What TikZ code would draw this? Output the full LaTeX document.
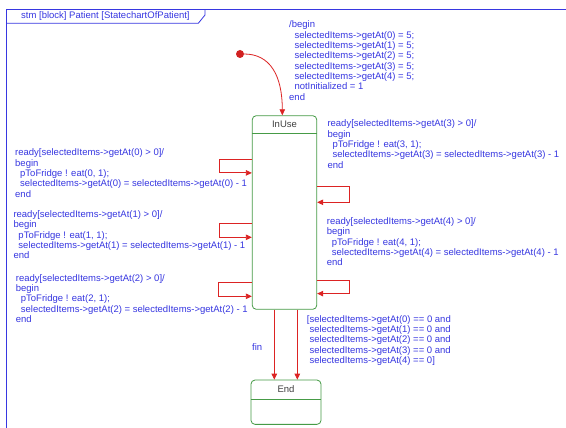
\documentclass[tikz,border=0pt]{standalone}
\usepackage{fontspec}
\setmainfont{Liberation Sans}
\usetikzlibrary{arrows.meta}
\definecolor{stmblue}{RGB}{55,55,225}
\definecolor{stategreen}{RGB}{70,155,70}
\definecolor{trred}{RGB}{220,35,35}
\begin{document}
\begin{tikzpicture}[x=1pt, y=-1pt,
    lbl/.style={text=stmblue, font=\fontsize{9.5}{10.34}\selectfont, align=left, anchor=base west, inner sep=0pt},
    nm/.style={text=black!75, font=\fontsize{9.5}{11}\selectfont, inner sep=0pt},
    state/.style={draw=stategreen, rounded corners=4pt, line width=0.8pt, fill=white},
    sep/.style={draw=stategreen, line width=0.8pt},
    tr/.style={draw=trred, line width=0.8pt, -{Triangle[length=6pt,width=5.5pt]}},
    init/.style={circle, fill=trred!95!black, inner sep=0pt, minimum size=8pt}
]
    \useasboundingbox (0,0) rectangle (566,428);
    \fill[white] (0,0) rectangle (566,428);
    \draw[stmblue, line width=0.8pt] (6,428) -- (6,9.5) -- (566,9.5);
    \draw[stmblue, line width=0.8pt] (6,23.3) -- (198.3,23.3) -- (205,15) -- (205,9.5);
    \node[lbl] (title) at (21,18.5) {stm [block] Patient [StatechartOfPatient]};

    \node[init] (start) at (240,54) {};
    \node[state, minimum width=64.5pt, minimum height=193.6pt] (inuse) at (284.5,212.5) {};
    \draw[sep] ([yshift=-18.6pt]inuse.north west) -- ([yshift=-18.6pt]inuse.north east);
    \node[nm] (inusename) at (284.5,124.7) {InUse};
    \node[state, minimum width=70pt, minimum height=44.3pt] (endstate) at (286,402.2) {};
    \draw[sep] ([yshift=-19.3pt]endstate.north west) -- ([yshift=-19.3pt]endstate.north east);
    \node[nm] (endname) at (286,389.3) {End};

    \draw[tr] (start) .. controls +(30,0) and +(0,-40) .. ([xshift=-2.2pt]inuse.north);
    \draw[tr] ([yshift=-44.3pt]inuse.north west) -- ++(-32.3,0) |- ([yshift=-57.6pt]inuse.north west);
    \draw[tr] ([yshift=-107.6pt]inuse.north west) -- ++(-32.3,0) |- ([yshift=-122pt]inuse.north west);
    \draw[tr] ([yshift=-167pt]inuse.north west) -- ++(-33.3,0) |- ([yshift=-181pt]inuse.north west);
    \draw[tr] ([yshift=-71pt]inuse.north east) -- ++(32.6,0) |- ([yshift=-87pt]inuse.north east);
    \draw[tr] ([yshift=-165pt]inuse.north east) -- ++(32.6,0) |- ([yshift=-178.3pt]inuse.north east);
    \draw[tr] ([xshift=-10.2pt]inuse.south) -- ([xshift=-11.7pt]endstate.north);
    \draw[tr] ([xshift=12.8pt]inuse.south) -- ([xshift=11.3pt]endstate.north);

    \node[lbl] (entry) at (289,100.2) {/begin\\
        \hspace*{5.3pt}selectedItems->getAt(0) = 5;\\
        \hspace*{5.3pt}selectedItems->getAt(1) = 5;\\
        \hspace*{5.3pt}selectedItems->getAt(2) = 5;\\
        \hspace*{5.3pt}selectedItems->getAt(3) = 5;\\
        \hspace*{5.3pt}selectedItems->getAt(4) = 5;\\
        \hspace*{5.3pt}notInitialized = 1\\
        end};
    \node[lbl] (eat0) at (15,197.2) {ready[selectedItems->getAt(0) > 0]/\\
        begin\\
        \hspace*{5pt}pToFridge ! eat(0, 1);\\
        \hspace*{5pt}selectedItems->getAt(0) = selectedItems->getAt(0) - 1\\
        end};
    \node[lbl] (eat1) at (13.3,258.9) {ready[selectedItems->getAt(1) > 0]/\\
        begin\\
        \hspace*{5pt}pToFridge ! eat(1, 1);\\
        \hspace*{5pt}selectedItems->getAt(1) = selectedItems->getAt(1) - 1\\
        end};
    \node[lbl] (eat2) at (15.7,322.6) {ready[selectedItems->getAt(2) > 0]/\\
        begin\\
        \hspace*{5pt}pToFridge ! eat(2, 1);\\
        \hspace*{5pt}selectedItems->getAt(2) = selectedItems->getAt(2) - 1\\
        end};
    \node[lbl] (eat3) at (327.3,168.2) {ready[selectedItems->getAt(3) > 0]/\\
        begin\\
        \hspace*{5pt}pToFridge ! eat(3, 1);\\
        \hspace*{5pt}selectedItems->getAt(3) = selectedItems->getAt(3) - 1\\
        end};
    \node[lbl] (eat4) at (326.7,265.9) {ready[selectedItems->getAt(4) > 0]/\\
        begin\\
        \hspace*{5pt}pToFridge ! eat(4, 1);\\
        \hspace*{5pt}selectedItems->getAt(4) = selectedItems->getAt(4) - 1\\
        end};
    \node[lbl] (fin) at (252,350) {fin};
    \node[lbl] (guard) at (306.7,363.6) {[selectedItems->getAt(0) == 0 and\\
        \hspace*{2.6pt}selectedItems->getAt(1) == 0 and\\
        \hspace*{2.6pt}selectedItems->getAt(2) == 0 and\\
        \hspace*{2.6pt}selectedItems->getAt(3) == 0 and\\
        \hspace*{2.6pt}selectedItems->getAt(4) == 0]};
\end{tikzpicture}
\end{document}
